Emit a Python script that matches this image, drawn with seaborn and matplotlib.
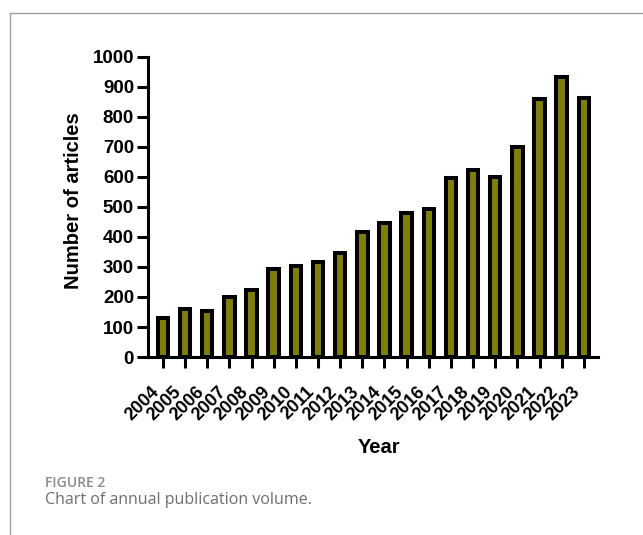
import matplotlib
matplotlib.use('Agg')
import matplotlib.pyplot as plt
from matplotlib.lines import Line2D
import seaborn as sns
import pandas as pd

years = ['2004', '2005', '2006', '2007', '2008', '2009', '2010', '2011', '2012', '2013',
         '2014', '2015', '2016', '2017', '2018', '2019', '2020', '2021', '2022', '2023']
articles = [130, 160, 155, 200, 222, 293, 303, 318, 345, 415,
            448, 480, 492, 595, 623, 599, 699, 860, 932, 864]

BAR_COLOR = '#7f7f00'
FONT = 'Liberation Sans'

sns.set_style('ticks')
plt.rcParams['font.family'] = [FONT, 'DejaVu Sans']
plt.rcParams['text.color'] = 'black'
plt.rcParams['axes.labelcolor'] = 'black'
plt.rcParams['xtick.color'] = 'black'
plt.rcParams['ytick.color'] = 'black'

df = pd.DataFrame({'Year': years, 'Articles': articles})

fig = plt.figure(figsize=(6.43, 5.35), dpi=100)
ax = fig.add_axes([0.230, 0.3327, 0.700, 0.5608])

sns.barplot(data=df, x='Year', y='Articles', color=BAR_COLOR, saturation=1,
            edgecolor='black', linewidth=2.9, width=0.47, ax=ax)

ax.set_xlim(-0.68, 19.64)
ax.set_ylim(0, 1000)
ax.set_yticks(range(0, 1001, 100))

sns.despine(ax=ax)
for side in ['left', 'bottom']:
    ax.spines[side].set_linewidth(2.2)
    ax.spines[side].set_color('black')
ax.tick_params(axis='both', length=8, width=2.2, color='black', labelcolor='black')
ax.tick_params(axis='y', labelsize=13.5, pad=2)
ax.tick_params(axis='x', labelsize=13, pad=11)
for lab in ax.get_yticklabels():
    lab.set_fontweight('bold')
for lab in ax.get_xticklabels():
    lab.set_fontweight('bold')
    lab.set_rotation(45)
    lab.set_ha('right')
    lab.set_va('top')

ax.set_ylabel('Number of articles', fontsize=14.5, fontweight='bold', va='center')
ax.yaxis.set_label_coords(-0.165, 0.52)
ax.set_xlabel('Year', fontsize=14.5, fontweight='bold', va='center')
ax.xaxis.set_label_coords(0.513, -0.30)

# page frame lines
fig.add_artist(Line2D([10 / 643, 1], [1 - 13 / 535, 1 - 13 / 535],
                      color='#a0a0a0', lw=1.0, transform=fig.transFigure))
fig.add_artist(Line2D([10 / 643, 10 / 643], [0, 1 - 13 / 535],
                      color='#a0a0a0', lw=1.0, transform=fig.transFigure))

# caption
fig.text(45 / 643, 1 - 487 / 535, 'FIGURE 2', fontsize=10, fontweight='semibold',
         color='#8a8a8a', family='Open Sans', va='baseline')
fig.text(45 / 643, 1 - 504 / 535, 'Chart of annual publication volume.', fontsize=11.5,
         color='#6e6e6e', family='Open Sans', va='baseline')

fig.savefig('out.png', dpi=100)
